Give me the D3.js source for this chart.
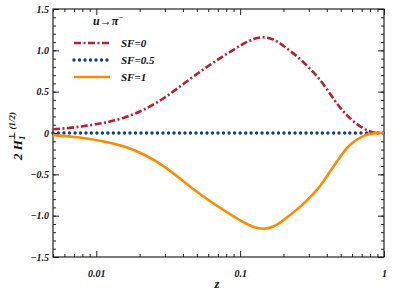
<!DOCTYPE html>
<html>
<head>
<meta charset="utf-8">
<script src="https://cdn.jsdelivr.net/npm/d3@7"></script>
<style>
  body { margin: 0; background: #fff; }
  text { font-family: "Liberation Serif", "DejaVu Serif", serif; font-weight: bold; font-style: italic; }
</style>
</head>
<body>
<div id="chart"></div>
<script>
// values
var zVals  = [0.005, 0.0069, 0.0085, 0.0112, 0.0154, 0.0212, 0.0292, 0.040, 0.0553, 0.076, 0.105, 0.125, 0.145, 0.17, 0.199, 0.261, 0.321, 0.36, 0.42, 0.495, 0.55, 0.61, 0.71, 0.80, 0.90, 1.0];
var sf0    = [0.045, 0.064, 0.088, 0.117, 0.177, 0.272, 0.41, 0.59, 0.77, 0.93, 1.08, 1.145, 1.165, 1.14, 1.06, 0.90, 0.74, 0.645, 0.48, 0.30, 0.22, 0.14, 0.06, 0.012, 0.0, 0.0];
var sf05   = [0, 0, 0, 0, 0, 0, 0, 0, 0, 0, 0, 0, 0, 0, 0, 0, 0, 0, 0, 0, 0, 0, 0, 0, 0, 0];
var sf1    = [-0.025, -0.045, -0.064, -0.10, -0.155, -0.25, -0.39, -0.58, -0.77, -0.93, -1.08, -1.145, -1.165, -1.14, -1.06, -0.90, -0.74, -0.645, -0.47, -0.29, -0.18, -0.11, -0.035, -0.01, 0.0, 0.0];
var seriesNames = ["SF=0", "SF=0.5", "SF=1"];
var xTickVals = [0.01, 0.1, 1];
var xTickLabels = ["0.01", "0.1", "1"];
var yTickVals = [-1.5, -1.0, -0.5, 0, 0.5, 1.0, 1.5];
var yTickLabels = ["\u22121.5", "\u22121.0", "\u22120.5", "0", "0.5", "1.0", "1.5"];

var width = 395, height = 296;
var margin = {left: 53, right: 11, top: 9, bottom: 39};

var svg = d3.select("#chart").append("svg")
    .attr("width", width)
    .attr("height", height);

var x = d3.scaleLog().domain([0.005, 1]).range([margin.left, width - margin.right]);
var y = d3.scaleLinear().domain([-1.5, 1.5]).range([height - margin.bottom, margin.top]);

var colors = ["#b5202e", "#0a3d91", "#ff8a00"];

// minor ticks
var xMinor = [];
[0.001, 0.01, 0.1].forEach(function (d) {
    for (var k = 2; k <= 9; k++) {
        var v = d * k;
        if (v >= 0.005 && v <= 1) xMinor.push(v);
    }
});
var yMinor = d3.range(-15, 16).map(d => d / 10);

var axisColor = "#222";

function drawAxis(axis, tr, minorVals, majorVals, labels) {
    var g = svg.append("g").attr("transform", tr);
    g.call(axis.tickValues(minorVals).tickSize(3).tickFormat(""));
    g.select(".domain").remove();
    var g2 = svg.append("g").attr("transform", tr);
    g2.call(axis.tickValues(majorVals).tickSize(6).tickFormat((d, i) => labels ? labels[i] : ""));
    g2.select(".domain").remove();
    g.selectAll("line").attr("stroke", axisColor);
    g2.selectAll("line").attr("stroke", axisColor);
    g2.selectAll("text").attr("font-size", "10px").attr("fill", "#111")
        .style("font-family", "'Liberation Serif', serif");
    return g2;
}

// bottom (ticks inside)
var gb = drawAxis(d3.axisTop(x), "translate(0," + y(-1.5) + ")", xMinor, xTickVals, xTickLabels);
gb.selectAll("text").attr("y", 17).attr("dy", "0.32em");
// top
drawAxis(d3.axisBottom(x), "translate(0," + y(1.5) + ")", xMinor, xTickVals, null);
// left
var gl = drawAxis(d3.axisRight(y), "translate(" + x(0.005) + ",0)", yMinor, yTickVals, yTickLabels);
gl.selectAll("text").attr("x", -4).attr("text-anchor", "end");
// right
drawAxis(d3.axisLeft(y), "translate(" + x(1) + ",0)", yMinor, yTickVals, null);

// frame
svg.append("rect")
    .attr("x", x(0.005)).attr("y", y(1.5))
    .attr("width", x(1) - x(0.005)).attr("height", y(-1.5) - y(1.5))
    .attr("fill", "none").attr("stroke", axisColor).attr("stroke-width", 1.2);

var line = d3.line()
    .x(d => x(d[0]))
    .y(d => y(d[1]))
    .curve(d3.curveBasis);

var series = [sf0, sf05, sf1];
var styles = [
    {dash: "7,2.5,2,2.5", width: 2.6, cap: "butt"},
    {dash: "0,5.5", width: 3.4, cap: "round"},
    {dash: null, width: 2.6, cap: "butt"}
];

series.forEach(function (vals, i) {
    svg.append("path")
        .datum(zVals.map((z, j) => [z, vals[j]]))
        .attr("d", line)
        .attr("fill", "none")
        .attr("stroke", colors[i])
        .attr("stroke-width", styles[i].width)
        .attr("stroke-linecap", styles[i].cap)
        .attr("stroke-dasharray", styles[i].dash);
});

// legend
svg.append("text")
    .attr("x", 93).attr("y", 25)
    .attr("font-size", "12px").attr("fill", "#111")
    .html("u\u2192\u03c0<tspan dy='-5' font-size='8px'>\u2212</tspan>");

seriesNames.forEach(function (name, i) {
    var ly = 43 + i * 17;
    svg.append("line")
        .attr("x1", 74).attr("x2", 110)
        .attr("y1", ly).attr("y2", ly)
        .attr("stroke", colors[i])
        .attr("stroke-width", styles[i].width)
        .attr("stroke-linecap", styles[i].cap)
        .attr("stroke-dasharray", styles[i].dash);
    svg.append("text")
        .attr("x", 121).attr("y", ly + 4)
        .attr("font-size", "11px").attr("fill", "#111")
        .text(name);
});

// axis titles
svg.append("text")
    .attr("x", 217).attr("y", 288)
    .attr("text-anchor", "middle")
    .attr("font-size", "13px").attr("fill", "#111")
    .text("z");

var yl = svg.append("text")
    .attr("transform", "translate(22,136) rotate(-90)")
    .attr("text-anchor", "middle")
    .attr("font-size", "13px").attr("fill", "#111");
yl.append("tspan").text("2 H");
yl.append("tspan").attr("font-size", "9px").attr("dy", 3).text("1");
yl.append("tspan").attr("font-size", "9px").attr("dx", -5).attr("dy", -10).text("\u22a5 (1/2)");
</script>
</body>
</html>
